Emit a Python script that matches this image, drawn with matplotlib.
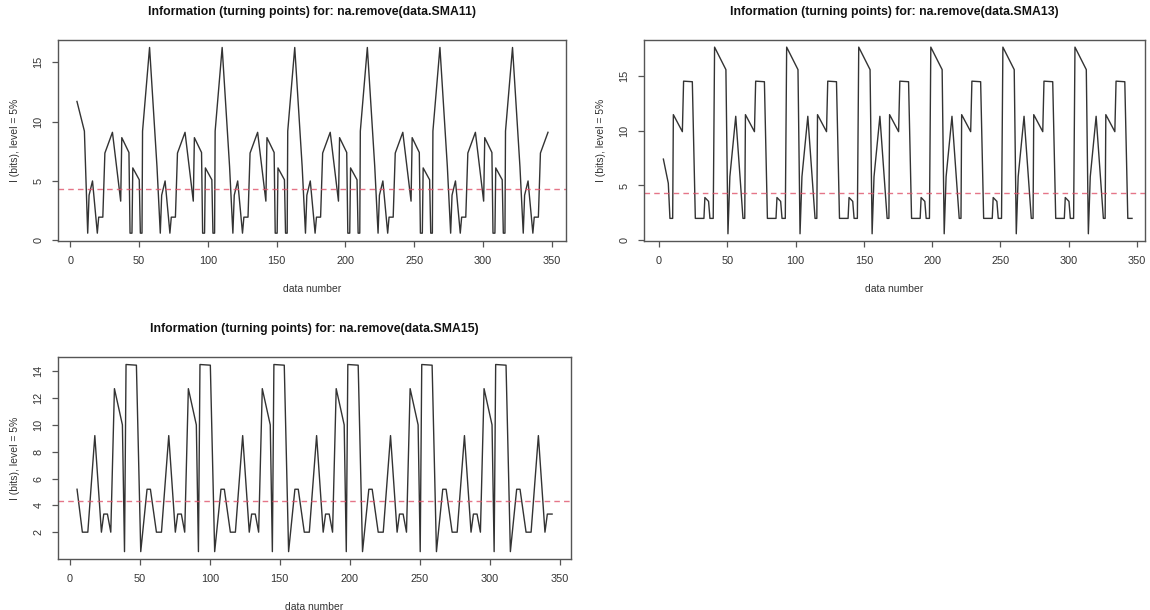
import matplotlib
matplotlib.use("Agg")
import matplotlib.pyplot as plt

plt.rcParams["font.family"] = ["Liberation Sans", "DejaVu Sans"]

# ---- turning-point information series (data number, I in bits) ----
sma11_x = [4.8, 10.2,
           12.6, 13.6, 16.1, 19.6, 20.6, 23.6, 25.1, 30.6, 36.6, 37.4, 42.6, 43.4, 44.8, 45.4, 50.1, 50.9, 52.1, 52.5, 57.6, 63.0,
           65.4, 66.4, 68.9, 72.4, 73.4, 76.4, 77.9, 83.4, 89.4, 90.2, 95.4, 96.2, 97.6, 98.2, 102.9, 103.7, 104.9, 105.3, 110.4, 115.8,
           118.2, 119.2, 121.7, 125.2, 126.2, 129.2, 130.7, 136.2, 142.2, 143.0, 148.2, 149.0, 150.4, 151.0, 155.7, 156.5, 157.7, 158.1, 163.2, 168.6,
           171.0, 172.0, 174.5, 178.0, 179.0, 182.0, 183.5, 189.0, 195.0, 195.8, 201.0, 201.8, 203.2, 203.8, 208.5, 209.3, 210.5, 210.9, 216.0, 221.4,
           223.8, 224.8, 227.3, 230.8, 231.8, 234.8, 236.3, 241.8, 247.8, 248.6, 253.8, 254.6, 256.0, 256.6, 261.3, 262.1, 263.3, 263.7, 268.8, 274.2,
           276.6, 277.6, 280.1, 283.6, 284.6, 287.6, 289.1, 294.6, 300.6, 301.4, 306.6, 307.4, 308.8, 309.4, 314.1, 314.9, 316.1, 316.5, 321.6, 327.0,
           329.4, 330.4, 332.9, 336.4, 337.4, 340.4, 341.9, 347.4]
sma11_y = [11.7, 9.2,
           0.6, 3.8, 5.0, 0.6, 1.95, 1.95, 7.35, 9.1, 3.3, 8.65, 7.4, 0.6, 0.6, 6.1, 5.1, 0.6, 0.6, 9.2, 16.25, 6.2,
           0.6, 3.8, 5.0, 0.6, 1.95, 1.95, 7.35, 9.1, 3.3, 8.65, 7.4, 0.6, 0.6, 6.1, 5.1, 0.6, 0.6, 9.2, 16.25, 6.2,
           0.6, 3.8, 5.0, 0.6, 1.95, 1.95, 7.35, 9.1, 3.3, 8.65, 7.4, 0.6, 0.6, 6.1, 5.1, 0.6, 0.6, 9.2, 16.25, 6.2,
           0.6, 3.8, 5.0, 0.6, 1.95, 1.95, 7.35, 9.1, 3.3, 8.65, 7.4, 0.6, 0.6, 6.1, 5.1, 0.6, 0.6, 9.2, 16.25, 6.2,
           0.6, 3.8, 5.0, 0.6, 1.95, 1.95, 7.35, 9.1, 3.3, 8.65, 7.4, 0.6, 0.6, 6.1, 5.1, 0.6, 0.6, 9.2, 16.25, 6.2,
           0.6, 3.8, 5.0, 0.6, 1.95, 1.95, 7.35, 9.1, 3.3, 8.65, 7.4, 0.6, 0.6, 6.1, 5.1, 0.6, 0.6, 9.2, 16.25, 6.2,
           0.6, 3.8, 5.0, 0.6, 1.95, 1.95, 7.35, 9.1]

sma13_x = [3.2, 6.8, 8.0,
           10.0, 10.5, 17.1, 18.0, 24.4, 26.6, 32.9, 33.6, 36.3, 37.3, 39.7, 40.7, 49.0, 50.5, 51.9, 56.2, 61.5,
           62.8, 63.3, 69.9, 70.8, 77.2, 79.4, 85.7, 86.4, 89.1, 90.1, 92.5, 93.5, 101.8, 103.3, 104.7, 109.0, 114.3,
           115.6, 116.1, 122.7, 123.6, 130.0, 132.2, 138.5, 139.2, 141.9, 142.9, 145.3, 146.3, 154.6, 156.1, 157.5, 161.8, 167.1,
           168.4, 168.9, 175.5, 176.4, 182.8, 185.0, 191.3, 192.0, 194.7, 195.7, 198.1, 199.1, 207.4, 208.9, 210.3, 214.6, 219.9,
           221.2, 221.7, 228.3, 229.2, 235.6, 237.8, 244.1, 244.8, 247.5, 248.5, 250.9, 251.9, 260.2, 261.7, 263.1, 267.4, 272.7,
           274.0, 274.5, 281.1, 282.0, 288.4, 290.6, 296.9, 297.6, 300.3, 301.3, 303.7, 304.7, 313.0, 314.5, 315.9, 320.2, 325.5,
           326.8, 327.3, 333.9, 334.8, 341.2, 343.4, 346.5]
sma13_y = [7.4, 5.2, 2.0,
           2.0, 11.45, 9.9, 14.5, 14.45, 2.0, 2.0, 3.9, 3.55, 2.0, 2.0, 17.6, 15.55, 0.6, 5.8, 11.3, 2.0,
           2.0, 11.45, 9.9, 14.5, 14.45, 2.0, 2.0, 3.9, 3.55, 2.0, 2.0, 17.6, 15.55, 0.6, 5.8, 11.3, 2.0,
           2.0, 11.45, 9.9, 14.5, 14.45, 2.0, 2.0, 3.9, 3.55, 2.0, 2.0, 17.6, 15.55, 0.6, 5.8, 11.3, 2.0,
           2.0, 11.45, 9.9, 14.5, 14.45, 2.0, 2.0, 3.9, 3.55, 2.0, 2.0, 17.6, 15.55, 0.6, 5.8, 11.3, 2.0,
           2.0, 11.45, 9.9, 14.5, 14.45, 2.0, 2.0, 3.9, 3.55, 2.0, 2.0, 17.6, 15.55, 0.6, 5.8, 11.3, 2.0,
           2.0, 11.45, 9.9, 14.5, 14.45, 2.0, 2.0, 3.9, 3.55, 2.0, 2.0, 17.6, 15.55, 0.6, 5.8, 11.3, 2.0,
           2.0, 11.45, 9.9, 14.5, 14.45, 2.0, 2.0]

sma15_x = [5.2, 9.0, 12.9,
           17.9, 22.6, 24.3, 26.9, 29.3, 31.9, 37.6, 39.1, 40.2, 47.6, 50.7, 55.2, 57.6, 61.9, 65.5,
           70.7, 75.4, 77.1, 79.7, 82.1, 84.7, 90.4, 91.9, 93.0, 100.4, 103.5, 108.0, 110.4, 114.7, 118.3,
           123.5, 128.2, 129.9, 132.5, 134.9, 137.5, 143.2, 144.7, 145.8, 153.2, 156.3, 160.8, 163.2, 167.5, 171.1,
           176.3, 181.0, 182.7, 185.3, 187.7, 190.3, 196.0, 197.5, 198.6, 206.0, 209.1, 213.6, 216.0, 220.3, 223.9,
           229.1, 233.8, 235.5, 238.1, 240.5, 243.1, 248.8, 250.3, 251.4, 258.8, 261.9, 266.4, 268.8, 273.1, 276.7,
           281.9, 286.6, 288.3, 290.9, 293.3, 295.9, 301.6, 303.1, 304.2, 311.6, 314.7, 319.2, 321.6, 325.9, 329.5,
           334.7, 339.4, 341.1, 344.5]
sma15_y = [5.2, 2.0, 2.0,
           9.2, 2.0, 3.35, 3.35, 2.0, 12.7, 10.0, 0.55, 14.5, 14.45, 0.55, 5.2, 5.2, 2.0, 2.0,
           9.2, 2.0, 3.35, 3.35, 2.0, 12.7, 10.0, 0.55, 14.5, 14.45, 0.55, 5.2, 5.2, 2.0, 2.0,
           9.2, 2.0, 3.35, 3.35, 2.0, 12.7, 10.0, 0.55, 14.5, 14.45, 0.55, 5.2, 5.2, 2.0, 2.0,
           9.2, 2.0, 3.35, 3.35, 2.0, 12.7, 10.0, 0.55, 14.5, 14.45, 0.55, 5.2, 5.2, 2.0, 2.0,
           9.2, 2.0, 3.35, 3.35, 2.0, 12.7, 10.0, 0.55, 14.5, 14.45, 0.55, 5.2, 5.2, 2.0, 2.0,
           9.2, 2.0, 3.35, 3.35, 2.0, 12.7, 10.0, 0.55, 14.5, 14.45, 0.55, 5.2, 5.2, 2.0, 2.0,
           9.2, 2.0, 3.35, 3.35]

series_names = ["SMA11", "SMA13", "SMA15"]
x_ticks = [0, 50, 100, 150, 200, 250, 300, 350]
y_ticks = [[0, 5, 10, 15], [0, 5, 10, 15], [2, 4, 6, 8, 10, 12, 14]]
level_5pct = 4.32   # -log2(0.05)

W, H = 1150, 610
fig = plt.figure(figsize=(W / 100, H / 100), dpi=100)


def rect(left, top, right, bottom):
    return [left / W, 1 - bottom / H, (right - left) / W, (bottom - top) / H]


panels = [
    (sma11_x, sma11_y, rect(58, 40, 566, 241), (-9.0, 360.5), (-0.06, 16.88)),
    (sma13_x, sma13_y, rect(644, 40, 1145, 241), (-11.0, 356.0), (-0.06, 18.25)),
    (sma15_x, sma15_y, rect(58, 357, 571, 559), (-8.4, 358.0), (0.0, 15.06)),
]

for (xs, ys, r, xl, yl), name, yt in zip(panels, series_names, y_ticks):
    ax = fig.add_axes(r)
    ax.plot(xs, ys, color="#333333", lw=1.0)
    ax.axhline(level_5pct, color="#DF536B", lw=1.0, ls=(0, (4, 3)), alpha=0.8)
    ax.set_xlim(*xl)
    ax.set_ylim(*yl)
    ax.set_xticks(x_ticks)
    ax.set_yticks(yt)
    for s in ax.spines.values():
        s.set_color("#555555")
        s.set_linewidth(1.0)
    ax.tick_params(direction="out", length=4.5, width=0.9, color="#555555",
                   labelsize=7.8, labelcolor="#333333", pad=6)
    for lab in ax.get_yticklabels():
        lab.set_rotation(90)
        lab.set_va("center")
    ax.set_xlabel("data number", fontsize=7.5, color="#333333", labelpad=13)
    ax.set_ylabel("I (bits), level = 5%", fontsize=7.5, color="#333333", labelpad=10)
    ax.set_title("Information (turning points) for: na.remove(data.%s)" % name,
                 fontsize=8.8, fontweight="bold", color="#111111", pad=18)

fig.savefig("out.png", dpi=100)
